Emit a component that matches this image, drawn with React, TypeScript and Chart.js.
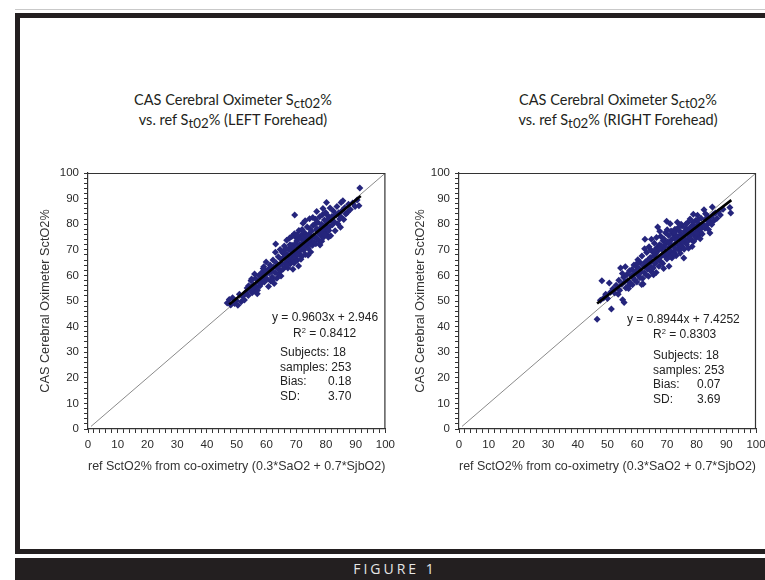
import React, { useEffect, useRef } from 'react';
import { Chart, registerables } from 'chart.js';

Chart.register(...registerables);

// ---------- DATA ----------
const leftX = [
  46.8, 47.5, 48.0, 48.6, 49.3, 49.8, 50.4, 50.9, 51.5, 52.0,
  52.6, 53.1, 53.5, 53.9, 54.4, 54.8, 55.2, 55.6, 55.9, 56.3, 56.6, 56.9, 57.2, 57.5, 57.8, 55.0, 56.0, 54.0, 57.0, 58.0, 52.8, 55.4,
  58.3, 58.5, 58.8, 59.1, 59.3, 59.6, 59.9, 60.2, 60.4, 60.7, 60.9, 61.2, 61.4, 61.7, 61.9, 62.2, 62.4, 62.6, 62.9, 63.1, 63.3, 63.5, 63.8, 64.0, 64.2, 58.9, 60.0, 61.0, 62.0, 63.0,
  64.4, 64.6, 64.8, 65.0, 65.2, 65.4, 65.6, 65.8, 66.0, 66.2, 66.4, 66.6, 66.8, 67.0, 67.2, 67.4, 67.6, 67.8, 68.0, 68.2, 68.4, 68.6, 68.8, 69.0, 69.2, 69.4, 69.5, 69.6, 69.8, 70.0, 64.9, 65.9, 66.9, 67.9, 68.9, 69.9, 66.5, 67.5, 68.5, 69.3,
  70.2, 70.4, 70.6, 70.8, 70.9, 71.1, 71.3, 71.5, 71.7, 71.9, 72.1, 72.3, 72.5, 72.7, 72.9, 73.1, 73.3, 73.5, 73.7, 73.9, 74.1, 74.3, 74.5, 74.7, 74.9, 75.1, 75.3, 75.5, 75.7, 75.9, 70.5, 71.0, 71.6, 72.0, 72.6, 73.0, 73.6, 74.0, 74.6, 75.0, 75.6, 76.0, 70.3, 72.4, 74.4,
  76.2, 76.4, 76.6, 76.8, 76.9, 77.1, 77.3, 77.5, 77.7, 77.9, 78.1, 78.3, 78.5, 78.7, 78.9, 79.1, 79.3, 79.5, 79.7, 79.9, 80.1, 80.2, 80.4, 80.6, 80.8, 81.0, 81.2, 81.4, 81.6, 81.8, 77.0, 78.0, 79.0, 80.0, 81.0, 82.0, 76.5, 78.6, 79.6, 80.5,
  82.2, 82.5, 82.8, 83.1, 83.4, 83.7, 84.0, 84.3, 84.6, 84.9, 85.1, 85.4, 85.7, 86.0, 86.3, 86.7, 87.2, 87.6, 88.2, 89.0, 89.8, 90.5, 91.1, 91.4, 85.0,
];
const leftY = [
  49.2, 50.6, 48.4, 51.3, 49.0, 50.2, 48.3, 52.6, 49.7, 51.8,
  50.4, 53.5, 55.1, 52.1, 54.6, 57.9, 53.2, 56.3, 54.0, 58.8, 55.5, 52.8, 57.4, 60.1, 55.9, 58.6, 60.5, 56.0, 54.2, 58.3, 52.9, 55.0,
  56.9, 61.2, 59.0, 63.4, 57.4, 60.3, 65.2, 58.6, 62.0, 55.7, 60.9, 64.1, 57.8, 61.6, 59.4, 66.0, 63.2, 56.8, 61.0, 72.3, 64.8, 58.9, 62.6, 67.3, 60.4, 62.7, 61.5, 62.8, 58.1, 69.0,
  63.9, 70.1, 61.7, 66.2, 64.6, 68.8, 62.5, 66.9, 71.5, 63.3, 67.7, 65.0, 73.7, 68.3, 62.9, 70.4, 66.1, 74.6, 64.5, 69.6, 67.2, 71.8, 65.6, 70.9, 68.0, 76.3, 83.6, 66.7, 72.5, 69.2, 59.8, 69.6, 64.1, 72.0, 62.4, 74.8, 70.3, 67.6, 75.2, 64.8,
  73.4, 65.9, 71.0, 63.7, 77.5, 68.6, 72.2, 70.0, 75.8, 67.4, 73.9, 80.4, 69.8, 72.9, 76.6, 68.2, 74.5, 71.4, 78.9, 72.7, 70.5, 76.0, 82.1, 73.3, 69.1, 77.2, 74.8, 71.8, 79.6, 75.4, 68.0, 74.7, 66.3, 77.9, 74.9, 81.3, 75.3, 67.9, 78.2, 72.1, 82.6, 73.0, 75.9, 71.1, 73.9,
  79.9, 75.0, 72.4, 77.8, 85.0, 74.3, 80.7, 76.5, 73.6, 82.9, 78.4, 75.7, 80.0, 77.1, 83.8, 74.8, 79.3, 81.6, 77.6, 84.6, 76.2, 88.5, 80.8, 78.3, 74.9, 82.4, 79.0, 86.3, 75.5, 81.3, 78.1, 71.9, 86.1, 79.4, 77.5, 83.0, 81.9, 73.3, 75.9, 83.5,
  79.8, 85.2, 81.0, 77.4, 83.7, 86.9, 80.2, 84.5, 82.0, 78.8, 88.5, 85.3, 89.2, 81.8, 86.4, 84.0, 84.6, 87.8, 85.7, 88.3, 86.9, 89.5, 87.2, 94.1, 82.9,
];

const rightX = [
  46.5, 47.6, 48.1, 48.7, 49.4, 50.0, 50.6, 51.0, 51.3, 51.8,
  52.4, 52.9, 53.3, 53.8, 54.1, 54.4, 54.8, 55.1, 55.4, 55.6, 55.9, 56.2, 56.5, 56.8, 57.1, 57.4, 57.7, 58.0, 53.6, 55.0, 56.0, 57.2,
  58.2, 58.4, 58.7, 58.9, 59.2, 59.4, 59.7, 59.9, 60.2, 60.4, 60.6, 60.9, 61.1, 61.3, 61.6, 61.8, 62.0, 62.2, 62.4, 62.6, 62.8, 63.0, 63.2, 63.4, 63.6, 63.8, 64.0, 58.6, 60.0, 61.5, 62.5, 63.5,
  64.2, 64.4, 64.6, 64.8, 65.0, 65.2, 65.4, 65.6, 65.8, 66.0, 66.2, 66.4, 66.6, 66.8, 66.9, 67.1, 67.3, 67.5, 67.7, 67.9, 68.1, 68.3, 68.5, 68.7, 68.9, 69.1, 69.3, 69.5, 69.7, 69.9, 70.0, 64.5, 65.5, 66.5, 67.0, 67.6, 68.0, 68.6, 69.0, 69.6, 65.9, 67.4,
  70.2, 70.4, 70.6, 70.7, 70.9, 71.1, 71.3, 71.5, 71.7, 71.9, 72.1, 72.3, 72.5, 72.7, 72.9, 73.1, 73.3, 73.5, 73.7, 73.9, 74.1, 74.3, 74.5, 74.7, 74.9, 75.1, 75.3, 75.5, 75.7, 75.9, 70.1, 70.8, 71.4, 72.0, 72.6, 73.2, 73.8, 74.2, 74.8, 75.4, 76.0, 71.0, 72.8, 74.6, 75.8,
  76.2, 76.4, 76.6, 76.8, 77.0, 77.2, 77.4, 77.6, 77.8, 78.0, 78.2, 78.4, 78.5, 78.7, 78.9, 79.1, 79.3, 79.5, 79.7, 79.9, 80.1, 80.3, 80.5, 80.7, 80.9, 81.1, 81.3, 81.5, 81.7, 81.9, 76.5, 77.3, 78.1, 79.0, 79.8, 80.6, 81.2, 77.7, 78.8, 80.0,
  82.1, 82.5, 82.8, 83.1, 83.4, 83.7, 84.0, 84.3, 84.5, 84.8, 85.1, 85.3, 85.6, 85.9, 86.3, 86.8, 87.4, 88.0, 88.9, 91.2, 91.5, 83.0,
];
const rightY = [
  42.9, 50.3, 57.9, 51.2, 52.6, 51.0, 57.0, 53.4, 46.9, 54.8,
  53.1, 56.2, 55.0, 58.1, 54.2, 62.9, 56.5, 50.5, 59.3, 49.4, 57.6, 55.1, 60.4, 58.0, 54.9, 61.8, 57.0, 59.9, 52.6, 60.7, 63.4, 56.1,
  62.3, 56.3, 60.4, 64.1, 58.2, 61.6, 63.5, 57.4, 66.1, 60.0, 62.8, 59.1, 64.9, 61.3, 67.6, 58.8, 56.6, 63.7, 61.0, 74.1, 65.3, 60.2, 68.9, 62.5, 66.0, 59.7, 71.2, 59.1, 64.7, 56.4, 70.4, 64.0,
  63.8, 67.0, 61.6, 74.1, 65.4, 69.2, 62.9, 67.8, 72.6, 64.6, 68.5, 61.1, 70.8, 66.3, 78.9, 69.7, 63.6, 72.0, 67.1, 75.3, 65.2, 70.3, 68.0, 73.5, 62.7, 71.0, 67.6, 76.7, 69.0, 81.2, 66.4, 70.0, 60.3, 74.8, 66.0, 77.2, 71.6, 64.6, 74.2, 72.3, 69.8, 70.5,
  73.0, 68.4, 75.6, 63.6, 71.1, 80.2, 69.5, 73.9, 66.8, 76.6, 71.8, 74.7, 69.0, 78.0, 72.3, 67.7, 75.4, 80.8, 70.6, 74.0, 77.5, 71.9, 68.7, 76.1, 73.2, 79.3, 71.0, 74.9, 66.8, 77.1, 77.8, 72.6, 77.3, 68.0, 76.9, 73.7, 78.6, 69.8, 80.0, 73.0, 75.9, 67.3, 70.4, 74.4, 70.2,
  74.0, 78.5, 72.2, 76.4, 80.6, 73.5, 77.8, 75.1, 82.0, 76.8, 73.9, 79.3, 71.3, 77.0, 83.9, 75.8, 79.0, 76.5, 81.4, 74.7, 78.2, 83.5, 77.4, 80.1, 75.9, 79.6, 77.0, 82.3, 78.5, 76.2, 80.2, 70.6, 78.9, 73.2, 78.9, 81.9, 74.3, 74.6, 80.8, 76.3,
  80.1, 85.6, 78.4, 81.9, 79.6, 83.2, 77.9, 81.0, 76.6, 82.7, 79.9, 86.7, 83.8, 81.4, 84.4, 82.2, 84.9, 83.6, 85.8, 86.5, 84.4, 84.1,
];

// regression line end points
const leftFitX = [47.5, 91.7];
const leftFitY = [48.6, 91.0];
const rightFitX = [46.5, 91.7];
const rightFitY = [49.0, 89.4];
// line of identity
const identityX = [1, 100];
const identityY = [1, 100];

const yAxisTitle = 'CAS Cerebral Oximeter SctO2%';
const xAxisTitle = 'ref SctO2% from co-oximetry (0.3*SaO2 + 0.7*SjbO2)';

const leftStats = ['y = 0.9603x + 2.946', '0.8412', '18', '253', '0.18', '3.70'];
const rightStats = ['y = 0.8944x + 7.4252', '0.8303', '18', '253', '0.07', '3.69'];

// ---------- STYLE ----------
const AXIS_FONT = "'Liberation Sans', Arial, sans-serif";
const TITLE_FONT = "Lato, 'Open Sans', sans-serif";
const INK = '#231f20';
const NAVY = '#25257c';

const toPts = (xs: number[], ys: number[]) => xs.map((x, i) => ({ x, y: ys[i] }));

const boxPlugin = {
  id: 'plotBox',
  afterDatasetsDraw(chart: any) {
    const a = chart.chartArea;
    const ctx = chart.ctx;
    ctx.save();
    ctx.strokeStyle = '#333';
    ctx.lineWidth = 1.2;
    ctx.beginPath();
    ctx.moveTo(a.left, a.top + 0.5);
    ctx.lineTo(a.right - 0.5, a.top + 0.5);
    ctx.lineTo(a.right - 0.5, a.bottom);
    ctx.stroke();
    ctx.restore();
  },
};

function ScatterPanel(props: {
  xs: number[]; ys: number[]; fitX: number[]; fitY: number[];
  left: number; width: number; yAxisW: number; yTitlePad: number; rightPad: number;
}) {
  const ref = useRef<HTMLCanvasElement>(null);
  useEffect(() => {
    const tickFont = { family: AXIS_FONT, size: 11.5 };
    const titleFont = { family: AXIS_FONT, size: 12.7 };
    const scaleBase = () => ({
      type: 'linear' as const,
      min: 0,
      max: 100,
      ticks: {
        stepSize: 2,
        autoSkip: false,
        maxRotation: 0,
        minRotation: 0,
        padding: 5,
        color: '#2b2b2b',
        font: tickFont,
        callback: (v: any) => (Number(v) % 10 === 0 ? String(v) : ''),
      },
      grid: { drawOnChartArea: false, drawTicks: true, tickLength: 4, color: '#333' },
      border: { display: true, color: '#333', width: 1.2 },
    });
    const chart = new Chart(ref.current as HTMLCanvasElement, {
      type: 'scatter',
      data: {
        datasets: [
          {
            type: 'line',
            data: toPts(props.fitX, props.fitY),
            borderColor: '#000',
            borderWidth: 2.6,
            pointRadius: 0,
            showLine: true,
            fill: false,
          },
          {
            type: 'scatter',
            data: toPts(props.xs, props.ys),
            pointStyle: 'rectRot',
            pointRadius: 3.5,
            backgroundColor: NAVY,
            borderColor: NAVY,
            borderWidth: 0,
          },
          {
            type: 'line',
            data: toPts(identityX, identityY),
            borderColor: '#8a8a8a',
            borderWidth: 1,
            pointRadius: 0,
            showLine: true,
            fill: false,
          },
        ] as any,
      },
      options: {
        animation: false,
        responsive: false,
        devicePixelRatio: 1,
        layout: { padding: { top: 13, right: props.rightPad, left: 0, bottom: 0 } },
        plugins: { legend: { display: false }, tooltip: { enabled: false } },
        scales: {
          x: {
            ...scaleBase(),
            title: { display: true, text: xAxisTitle, color: '#333', font: titleFont, padding: { top: 0, bottom: 6 } },
            afterFit: (s: any) => { s.height = 51; },
          },
          y: {
            ...scaleBase(),
            title: { display: true, text: yAxisTitle, color: '#333', font: titleFont, padding: { top: props.yTitlePad, bottom: 0 } },
            afterFit: (s: any) => { s.width = props.yAxisW; },
          },
        } as any,
      },
      plugins: [boxPlugin],
    });
    return () => chart.destroy();
  }, []);
  return (
    <canvas
      ref={ref}
      width={props.width}
      height={320}
      style={{ position: 'absolute', left: props.left, top: 160, width: props.width, height: 320 }}
    />
  );
}

const Sub = ({ children }: { children: React.ReactNode }) => (
  <span style={{ position: 'relative', top: 3, fontSize: '0.92em' }}>{children}</span>
);

function ChartTitle({ cx, side }: { cx: number; side: string }) {
  return (
    <div
      style={{
        position: 'absolute', left: cx - 150, top: 90, width: 300, textAlign: 'center',
        fontFamily: TITLE_FONT, fontSize: 14.5, lineHeight: '20px', color: INK, whiteSpace: 'nowrap',
      }}
    >
      <div>CAS Cerebral Oximeter S<Sub>ct02</Sub>%</div>
      <div>vs. ref S<Sub>t02</Sub>% ({side} Forehead)</div>
    </div>
  );
}

function Stats({ s, eqLeft, eqY, rLeft, rY, left, y0, valLeft }: any) {
  const base: React.CSSProperties = {
    position: 'absolute', fontFamily: AXIS_FONT, fontSize: 12, lineHeight: '14px', color: '#222', whiteSpace: 'nowrap',
  };
  const rows = [['Subjects: ' + s[2], null], ['samples: ' + s[3], null], ['Bias:', s[4]], ['SD:', s[5]]];
  const gaps = [0, 14.5, 29, 43.5];
  return (
    <>
      <div style={{ ...base, left: eqLeft, top: eqY - 7 }}>{s[0]}</div>
      <div style={{ ...base, left: rLeft, top: rY - 7 }}>
        R<sup style={{ fontSize: 7.5, verticalAlign: 'top', position: 'relative', top: -2 }}>2</sup> = {s[1]}
      </div>
      {rows.map((r, i) => (
        <React.Fragment key={i}>
          <div style={{ ...base, left, top: y0 + gaps[i] - 7 }}>{r[0]}</div>
          {r[1] ? <div style={{ ...base, left: valLeft, top: y0 + gaps[i] - 7 }}>{r[1]}</div> : null}
        </React.Fragment>
      ))}
    </>
  );
}

export default function App() {
  return (
    <div style={{ position: 'absolute', left: 0, top: 0, width: 765, height: 580, overflow: 'hidden', background: '#fff' }}>
      <div style={{ position: 'absolute', left: 15, top: 9, width: 760, height: 1, background: '#c9c9c9' }} />
      <div
        style={{
          position: 'absolute', left: 15, top: 13, width: 900, height: 541,
          border: `5px solid ${INK}`, boxSizing: 'border-box',
        }}
      />
      <ChartTitle cx={233} side="LEFT" />
      <ChartTitle cx={618} side="RIGHT" />
      <ScatterPanel xs={leftX} ys={leftY} fitX={leftFitX} fitY={leftFitY} left={30} width={370} yAxisW={58} yTitlePad={8} rightPad={13} />
      <ScatterPanel xs={rightX} ys={rightY} fitX={rightFitX} fitY={rightFitY} left={400} width={380} yAxisW={59} yTitlePad={13} rightPad={24} />
      <Stats s={leftStats} eqLeft={272} eqY={317} rLeft={293} rY={333} left={280} y0={352} valLeft={328} />
      <Stats s={rightStats} eqLeft={627} eqY={319} rLeft={653} rY={334} left={653} y0={355} valLeft={697} />
      <div style={{ position: 'absolute', left: 15, top: 558, width: 760, height: 22, background: INK }} />
      <div
        style={{
          position: 'absolute', left: 15, top: 558, width: 760, height: 22, lineHeight: '22px', textAlign: 'center',
          fontFamily: "'Open Sans', sans-serif", fontSize: 14, letterSpacing: 3, color: '#e6e6e6',
        }}
      >
        FIGURE 1
      </div>
    </div>
  );
}
